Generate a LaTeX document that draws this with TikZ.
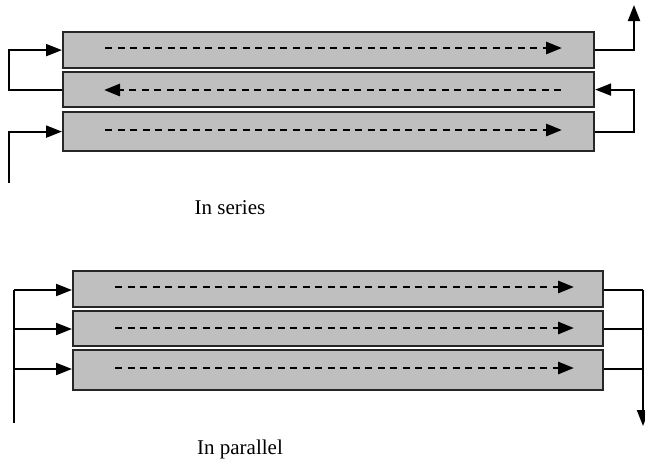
\documentclass[tikz,border=0pt]{standalone}
\usepackage{fontspec}
\setmainfont{Liberation Serif}
\usetikzlibrary{arrows.meta}
\begin{document}
\begin{tikzpicture}[x=1pt,y=-1pt,
  tube/.style={draw=black!85,line width=2.2pt,fill=black!25,inner sep=0pt,anchor=north west},
  flow/.style={line width=2.8pt,dash pattern=on 7pt off 5.5pt,-{Triangle[length=16pt,width=12pt]}},
  pipe/.style={line width=2pt},
  pipea/.style={line width=2pt,-{Triangle[length=16pt,width=12pt]}},
  lbl/.style={font=\fontsize{21}{25}\selectfont,inner sep=0pt}]
\useasboundingbox (0,0) rectangle (645,464);
% series
\node[tube,minimum width=531pt,minimum height=36pt] (s1) at (62,31) {};
\node[tube,minimum width=531pt,minimum height=35pt] (s2) at (62,71) {};
\node[tube,minimum width=531pt,minimum height=39pt] (s3) at (62,111) {};
\coordinate (s1a) at (105,48); \coordinate (s1b) at (562,48);
\coordinate (s2a) at (561,90); \coordinate (s2b) at (104,90);
\coordinate (s3a) at (105,130); \coordinate (s3b) at (562,130);
\draw[flow] (s1a) -- (s1b);
\draw[flow] (s2a) -- (s2b);
\draw[flow] (s3a) -- (s3b);
\coordinate (sin) at (9,183);
\coordinate (sout) at (634,5);
\draw[pipea] (sin) |- (s3.west);
\draw[pipea] (s2.west) -- (s2.west -| sin) |- (s1.west);
\draw[pipea] (s3.east) -- (s3.east -| sout) |- (s2.east);
\draw[pipea] (s1.east) -| (sout);
\node[lbl] (t1) at (230,208) {In series};
% parallel
\node[tube,minimum width=530pt,minimum height=36pt] (p1) at (72,270) {};
\node[tube,minimum width=530pt,minimum height=35pt] (p2) at (72,310) {};
\node[tube,minimum width=530pt,minimum height=40pt] (p3) at (72,349) {};
\coordinate (p1a) at (115,287); \coordinate (p1b) at (574,287);
\coordinate (p2a) at (115,328); \coordinate (p2b) at (574,328);
\coordinate (p3a) at (115,368); \coordinate (p3b) at (574,368);
\draw[flow] (p1a) -- (p1b);
\draw[flow] (p2a) -- (p2b);
\draw[flow] (p3a) -- (p3b);
\coordinate (pin) at (14,423);
\coordinate (ptop) at (14,290);
\coordinate (qtop) at (643,290);
\coordinate (pout) at (643,426);
\draw[pipe] (pin) -- (ptop);
\draw[pipea] (ptop) -- (p1.west |- ptop);
\draw[pipea] (14,329) -- (p2.west |- 0,329);
\draw[pipea] (14,369) -- (p3.west |- 0,369);
\draw[pipe] (p1.east |- qtop) -- (qtop);
\draw[pipe] (p2.east |- 0,329) -- (643,329);
\draw[pipe] (p3.east |- 0,369) -- (643,369);
\draw[pipea] (qtop) -- (pout);
\node[lbl] (t2) at (240,449) {In parallel};
\end{tikzpicture}
\end{document}
